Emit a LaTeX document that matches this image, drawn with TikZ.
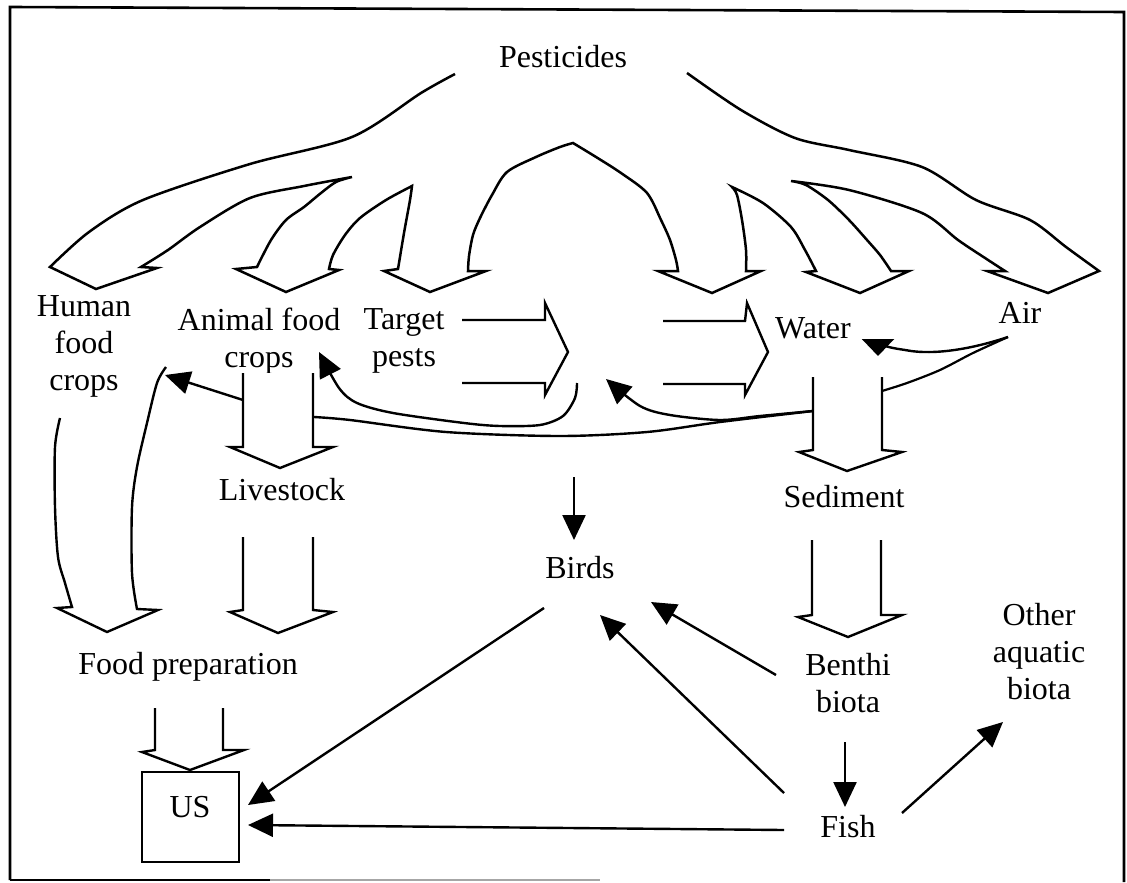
\documentclass[tikz,border=0pt]{standalone}
\usepackage{fontspec}
\setmainfont{Liberation Serif}
\usetikzlibrary{arrows.meta}
\begin{document}
\begin{tikzpicture}[x=0.5pt,y=-0.5pt,
  lbl/.style={font=\fontsize{16}{18.5}\selectfont, align=center, inner sep=0pt},
  blk/.style={draw, fill=white, line width=1.2pt, line join=miter},
  fan/.style={draw, line width=1.25pt, line join=miter},
  ln/.style={draw, line width=1.1pt},
  con/.style={draw, line width=1.2pt, -{Triangle[length=12.5pt,width=11.5pt]}},
  frm/.style={line width=1.3pt}]
\useasboundingbox (0,0) rectangle (1127,882);
% frame
\draw[frm] (10,880) -- (10,7) -- (1124,12) -- (1124,882);
\draw[frm] (10,880) -- (270,880);
\draw[frm, black!35] (270,880) -- (600,880);

% labels
\node[lbl] (pest) at (563,57) {Pesticides};
\node[lbl] (hfc) at (84,346) {Human\\food\\crops};
\node[lbl] (afc) at (259,341) {Animal food\\crops};
\node[lbl] (tp) at (404,341) {Target\\pests};
\node[lbl] (water) at (813,328) {Water};
\node[lbl] (air) at (1020,313) {Air};
\node[lbl] (live) at (282,490) {Livestock};
\node[lbl] (sed) at (844,497) {Sediment};
\node[lbl] (birds) at (580,568) {Birds};
\node[lbl] (food) at (188,667) {Food preparation};
\node[draw, line width=1.2pt, minimum width=48.5pt, minimum height=45pt, inner sep=0pt] (usbox) at (190.5,817) {};
\node[lbl] (us) at (190,807) {US};
\node[lbl] (benthi) at (848,683) {Benthi\\biota};
\node[lbl] (other) at (1039,652) {Other\\aquatic\\biota};
\node[lbl] (fish) at (848,827) {Fish};

% fan of pesticide arrows
\draw[fan]
  plot[smooth] coordinates {(455,74) (421,93) (352,137) (250,164) (143,200) (89,232) (50,267)}
  -- (96,289) -- (157,268) -- (141,267)
  -- plot[smooth] coordinates {(141,267) (168,250) (200,227) (250,198) (304,186) (352,177)}
  -- plot[smooth] coordinates {(352,177) (336,182) (321,193) (304,207) (286,220) (271,240) (257,267)}
  -- (236,269) -- (286,292) -- (339,270) -- (329,269)
  -- plot[smooth] coordinates {(329,269) (333,255) (345,235) (360,218) (386,200) (412,186)}
  -- plot[smooth] coordinates {(412,186) (410,200) (404,233) (398,269)}
  -- (384,271) -- (430,292) -- (486,271) -- (468,271)
  -- plot[smooth] coordinates {(468,271) (469,256) (473,235) (480,218) (492,195) (507,172) (536,157) (560,147) (573,143)}
  -- plot[smooth] coordinates {(573,143) (596,157) (621,173) (647,193) (661,220) (670,240) (676,260) (678,271)}
  -- (658,271) -- (712,293) -- (761,271) -- (746,271)
  -- plot[smooth] coordinates {(746,271) (746,250) (742,220) (737,195) (732,187)}
  -- plot[smooth] coordinates {(732,187) (763,203) (791,227) (805,250) (816,271)}
  -- (806,272) -- (860,293) -- (909,271) -- (891,271)
  -- plot[smooth] coordinates {(891,271) (880,255) (867,240) (849,220) (828,200) (806,185) (791,181)}
  -- plot[smooth] coordinates {(791,181) (849,190) (922,213) (958,240) (985,258) (1005,271)}
  -- (987,271) -- (1048,293) -- (1099,271)
  -- plot[smooth] coordinates {(1099,271) (1066,247) (1030,220) (976,200) (922,167) (849,150) (795,138) (741,110) (687,73)};

% named connector ends
\coordinate (sedL) at (813,411);
\coordinate (sedR) at (882,391);
\coordinate (airA) at (1008,337);
\coordinate (waterT) at (878,356);
\coordinate (hfcT) at (165,375);
\coordinate (afcT) at (319,352);
\coordinate (jS) at (577,383);
\coordinate (midT) at (606,379);
\coordinate (birdsA) at (574,477);
\coordinate (birdsT) at (574,540);
\coordinate (birdsL) at (544,608);
\coordinate (birdsB) at (600,615);
\coordinate (birdsR) at (651,602);
\coordinate (usNE) at (248,805);
\coordinate (usE) at (248,825);
\coordinate (fishW) at (784,830);
\coordinate (fishNW) at (784,793);
\coordinate (fishN) at (845,807);
\coordinate (fishNE) at (902,813);
\coordinate (benthiW) at (776,675);
\coordinate (benthiS) at (845,742);
\coordinate (otherS) at (1003,722);

% thin connectors
\draw[con] plot[smooth] coordinates {(sedL) (720,422) (647,432) (560,436) (446,432) (350,420) (314,417)} -- (243,400) -- (hfcT);
\draw[con] plot[smooth] coordinates {(sedL) (760,416) (720,420) (670,415) (640,406) (midT)};
\draw[con] plot[smooth] coordinates {(jS) (575,398) (563,416) (540,425) (500,426) (464,423) (393,413) (357,403) (339,388) (afcT)};
\draw[con, -{Triangle[length=8.5pt,width=16pt]}] (airA) .. controls (975,348) and (935,356) .. (905,350) .. controls (892,348) and (878,346) .. (waterT);
\draw[ln] plot[smooth] coordinates {(airA) (973,353) (940,370) (907,383) (sedR)};
\draw[con] (birdsA) -- (birdsT);
\draw[con] (birdsL) -- (usNE);
\draw[con] (fishNW) -- (birdsB);
\draw[con] (benthiW) -- (birdsR);
\draw[con] (benthiS) -- (fishN);
\draw[con] (fishW) -- (usE);
\draw[con] (fishNE) -- (otherS);

% block arrows
\draw[blk] (462,320) -- (545,320) -- (545,303) -- (568,352) -- (545,395) -- (545,383) -- (462,383);
\draw[blk] (663,321) -- (745,321) -- (747,303) -- (768,352) -- (745,395) -- (745,384) -- (663,384);
\draw[blk] (243,373) -- (243,447) -- (230,447) -- (280,468) -- (333,447) -- (313,447) -- (313,373);
\draw[blk] (243,537) -- (243,610) -- (230,612) -- (278,633) -- (333,612) -- (313,610) -- (313,537);
\draw[blk] (813,377) -- (813,450) -- (799,452) -- (847,471) -- (902,452) -- (882,450) -- (882,377);
\draw[blk] (812,540) -- (812,615) -- (798,617) -- (848,637) -- (902,615) -- (881,615) -- (881,540);
\draw[blk] (155,708) -- (155,750) -- (142,752) -- (190,770) -- (244,750) -- (223,750) -- (223,708);
\draw[blk] plot[smooth] coordinates {(60,418) (55,447) (55,507) (58,557) (65,583) (72,607)}
  -- (57,608) -- (107,632) -- (158,610) -- (137,609)
  -- plot[smooth] coordinates {(137,609) (132,573) (132,507) (137,467) (147,423) (157,383) (166,367)};
\end{tikzpicture}
\end{document}
